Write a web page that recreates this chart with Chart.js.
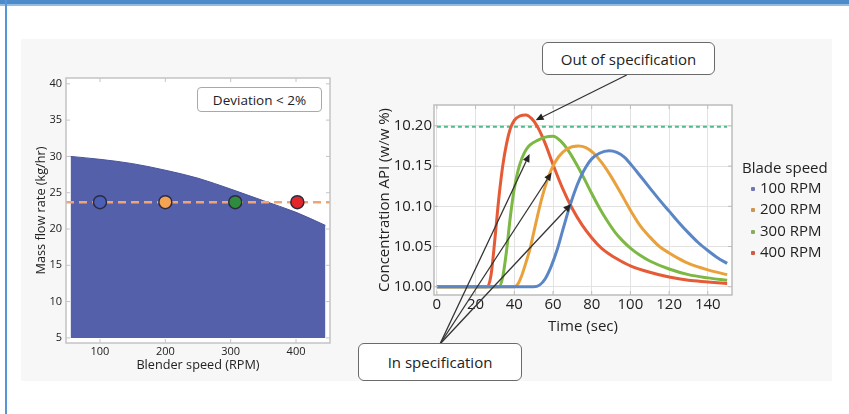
<!DOCTYPE html>
<html><head><meta charset="utf-8">
<script src="https://cdn.jsdelivr.net/npm/chart.js@4.4.1/dist/chart.umd.min.js"></script>
<style>
html,body{margin:0;padding:0;background:#fff;width:849px;height:414px;overflow:hidden;font-family:"Open Sans","Noto Sans",sans-serif;color:#222}
#topband{position:absolute;left:0;top:0;width:849px;height:4px;background:#4d8bcb}
#topline{position:absolute;left:0;top:4px;width:849px;height:2px;background:#93bce3}
#leftline{position:absolute;left:5px;top:0;width:2px;height:414px;background:#5596d6}
#panel{position:absolute;left:21px;top:39px;width:811px;height:342px;background:#f7f7f7}
#c1wrap{position:absolute;left:20px;top:60px;width:330px;height:320px}
#c2wrap{position:absolute;left:340px;top:40px;width:509px;height:345px}
.box{position:absolute;box-sizing:border-box;background:#fff;display:flex;align-items:center;justify-content:center;white-space:nowrap}
#dev{left:197px;top:87px;width:125px;height:25px;border:1.5px solid #a9a9a9;border-radius:4px;font-size:13.5px;color:#222}
#outspec{left:542px;top:42px;width:173px;height:33px;border:1.6px solid #6a6a6a;border-radius:6px;font-size:15px}
#inspec{left:358px;top:343px;width:164px;height:38px;border:1.6px solid #6a6a6a;border-radius:6px;font-size:15px}
#legend{position:absolute;left:742px;top:157px;font-size:15px;color:#222}
.lgtitle{position:absolute;left:0;top:0;line-height:20px;white-space:nowrap}
.lgitem{position:absolute;left:8px;white-space:nowrap;line-height:20px}
.lgmark{position:absolute;width:4px;height:4px;border-radius:1px}
</style></head>
<body>
<div id="topband"></div><div id="topline"></div><div id="leftline"></div>
<div id="panel"></div>
<div id="c1wrap"><canvas id="c1" width="330" height="320"></canvas></div>
<div id="c2wrap"><canvas id="c2" width="509" height="345"></canvas></div>
<div class="box" id="dev">Deviation &lt; 2%</div>
<div class="box" id="outspec">Out of specification</div>
<div class="box" id="inspec">In specification</div>
<div id="legend"></div>
<script>
// ---------- Left chart data ----------
const blenderSpeed = [55, 100, 150, 200, 250, 300, 350, 400, 445];
const maxFlowRate  = [30.0, 29.6, 29.0, 28.1, 27.0, 25.5, 23.9, 22.3, 20.5];
const designSpaceFloor = 5;
const setpointSpeed = [48, 452];
const setpointRate  = [23.7, 23.7];
const runSpeeds = [100, 200, 307, 402];
const runRates  = [23.7, 23.7, 23.7, 23.7];
const leftXTicks = [100, 200, 300, 400];
const leftYTicks = [5, 10, 15, 20, 25, 30, 35, 40];

// ---------- Right chart data ----------
const seriesLabels = ['100 RPM', '200 RPM', '300 RPM', '400 RPM'];
const time100 = [0, 50, 53, 56, 59, 62, 65, 68, 71, 74, 77, 80, 84, 89, 93, 97, 101, 105, 110, 115, 120, 125, 130, 135, 140, 145, 150];
const conc100 = [10.000, 10.000, 10.002, 10.010, 10.025, 10.045, 10.070, 10.095, 10.117, 10.135, 10.149, 10.159, 10.166, 10.169, 10.167, 10.161, 10.150, 10.138, 10.123, 10.108, 10.094, 10.080, 10.067, 10.055, 10.045, 10.036, 10.029];
const time200 = [0, 40, 42, 44, 46, 48, 50, 52, 54, 56, 58, 60, 63, 67, 73, 77, 81, 85, 89, 93, 97, 101, 105, 110, 115, 120, 125, 130, 140, 150];
const conc200 = [10.000, 10.000, 10.004, 10.015, 10.030, 10.046, 10.067, 10.088, 10.108, 10.125, 10.139, 10.150, 10.162, 10.171, 10.175, 10.173, 10.166, 10.155, 10.141, 10.125, 10.108, 10.091, 10.076, 10.062, 10.050, 10.042, 10.035, 10.029, 10.021, 10.015];
const time300 = [0, 32, 34, 36, 38, 40, 42, 44, 46, 48, 52, 56, 60, 64, 68, 72, 76, 80, 84, 88, 92, 96, 100, 105, 110, 120, 130, 140, 150];
const conc300 = [10.000, 10.000, 10.012, 10.045, 10.088, 10.122, 10.145, 10.160, 10.170, 10.176, 10.182, 10.186, 10.187, 10.181, 10.169, 10.153, 10.135, 10.116, 10.098, 10.082, 10.068, 10.057, 10.048, 10.039, 10.032, 10.022, 10.015, 10.011, 10.008];
const time400 = [0, 26, 28, 30, 32, 34, 36, 38, 40, 43, 46, 49, 52, 56, 60, 65, 70, 75, 80, 85, 90, 95, 100, 110, 120, 130, 140, 150];
const conc400 = [10.000, 10.000, 10.015, 10.060, 10.110, 10.150, 10.178, 10.197, 10.207, 10.2125, 10.2137, 10.209, 10.199, 10.178, 10.152, 10.122, 10.097, 10.077, 10.061, 10.048, 10.039, 10.032, 10.026, 10.018, 10.012, 10.008, 10.006, 10.004];
const specLimitTime = [0, 150];
const specLimitConc = [10.199, 10.199];
const rightXTicks = [0, 20, 40, 60, 80, 100, 120, 140];
const rightYTicks = [10.00, 10.05, 10.10, 10.15, 10.20];
// annotation arrow targets (data coordinates)
const outSpecTarget = {x: 51, y: 10.207};
const inSpecTargets = [{x: 47.9, y: 10.165}, {x: 59.3, y: 10.142}, {x: 69.4, y: 10.103}];

// ---------- styling ----------
const FONT = "'Open Sans','Noto Sans',sans-serif";
Chart.defaults.font.family = FONT;
Chart.defaults.color = '#222';
const seriesColors = ['#5b86c6', '#e9a23b', '#7cb844', '#e65a36'];
const legendColors = ['#6f78b3', '#cf9450', '#8cab62', '#cf5a45'];
const runColors = ['#4b5fb5', '#f4a254', '#2f8c3e', '#e3262a'];
const zip = (xs, ys) => xs.map((x, i) => ({x, y: ys[i]}));

const plotBg = {
  id: 'plotBg',
  beforeDraw(chart) {
    const {ctx, chartArea: a} = chart;
    ctx.save(); ctx.fillStyle = '#fff';
    ctx.fillRect(a.left, a.top, a.right - a.left, a.bottom - a.top);
    ctx.restore();
  }
};
const frame = {
  id: 'frame',
  afterDatasetsDraw(chart, args, opts) {
    const {ctx, chartArea: a, scales} = chart;
    ctx.save();
    ctx.strokeStyle = opts.color || '#c2c2c2'; ctx.lineWidth = 1.5;
    ctx.strokeRect(a.left, a.top, a.right - a.left, a.bottom - a.top);
    ctx.lineWidth = 1;
    ctx.beginPath();
    scales.x.ticks.forEach(t => {
      const px = scales.x.getPixelForValue(t.value);
      ctx.moveTo(px, a.bottom); ctx.lineTo(px, a.bottom - 4);
      ctx.moveTo(px, a.top); ctx.lineTo(px, a.top + 4);
    });
    scales.y.ticks.forEach(t => {
      const py = scales.y.getPixelForValue(t.value);
      ctx.moveTo(a.left, py); ctx.lineTo(a.left + 4, py);
      ctx.moveTo(a.right, py); ctx.lineTo(a.right - 4, py);
    });
    ctx.stroke();
    ctx.restore();
  }
};

// ---------- Left chart ----------
new Chart(document.getElementById('c1'), {
  type: 'line',
  data: {
    datasets: [
      {data: zip(runSpeeds, runRates), showLine: false, pointRadius: 6.5, pointHoverRadius: 6.5,
       pointBackgroundColor: runColors, pointBorderColor: '#2b2b40', pointBorderWidth: 1.5, order: 0},
      {data: zip(setpointSpeed, setpointRate), borderColor: '#f0a373', borderWidth: 2.5, borderDash: [8, 5],
       pointRadius: 0, fill: false, order: 1},
      {data: zip(blenderSpeed, maxFlowRate), borderColor: '#4b5499', borderWidth: 1, backgroundColor: '#5560aa',
       fill: {value: designSpaceFloor}, pointRadius: 0, cubicInterpolationMode: 'monotone', order: 2}
    ]
  },
  options: {
    responsive: false, animation: false,
    layout: {padding: {left: 0, top: 18, right: 20, bottom: 6}},
    plugins: {legend: {display: false}, tooltip: {enabled: false}, frame: {color: '#c4c4c4'}},
    scales: {
      x: {type: 'linear', min: 48, max: 452,
        afterBuildTicks: s => { s.ticks = leftXTicks.map(v => ({value: v})); },
        afterFit: s => { s.height = 31; },
        grid: {display: false, drawTicks: false}, border: {display: false},
        ticks: {font: {size: 11}, padding: 2, color: '#222'},
        title: {display: true, text: 'Blender speed (RPM)', font: {size: 12.7}, color: '#222', padding: {top: 0, bottom: 0.5}}},
      y: {type: 'linear', min: 4.3, max: 40.8,
        afterBuildTicks: s => { s.ticks = leftYTicks.map(v => ({value: v})); },
        afterFit: s => { s.width = 46; },
        grid: {display: false, drawTicks: false}, border: {display: false},
        ticks: {font: {size: 11}, padding: 4, color: '#222'},
        title: {display: true, text: 'Mass flow rate (kg/hr)', font: {size: 12.7}, color: '#222', padding: {top: 14, bottom: 0}}}
    }
  },
  plugins: [plotBg, frame]
});

// ---------- Right chart ----------
const arrows = {
  id: 'arrows',
  afterDraw(chart) {
    const {ctx, scales: {x, y}} = chart;
    const draw = (sx, sy, t) => {
      const tx = x.getPixelForValue(t.x), ty = y.getPixelForValue(t.y);
      const ang = Math.atan2(ty - sy, tx - sx), L = 8, W = 3.5;
      const bx = tx - L * Math.cos(ang), by = ty - L * Math.sin(ang);
      ctx.beginPath(); ctx.moveTo(sx, sy); ctx.lineTo(bx, by); ctx.stroke();
      ctx.beginPath(); ctx.moveTo(tx, ty);
      ctx.lineTo(bx + W * Math.sin(ang), by - W * Math.cos(ang));
      ctx.lineTo(bx - W * Math.sin(ang), by + W * Math.cos(ang));
      ctx.closePath(); ctx.fill();
    };
    ctx.save();
    ctx.strokeStyle = '#333'; ctx.fillStyle = '#222'; ctx.lineWidth = 1.3;
    draw(286.7, 35, outSpecTarget);
    inSpecTargets.forEach(t => draw(100, 304, t));
    ctx.restore();
  }
};
const curveTimes = [time100, time200, time300, time400];
const curveConcs = [conc100, conc200, conc300, conc400];
const curveSets = seriesLabels.map((lab, i) => ({
  label: lab, data: zip(curveTimes[i], curveConcs[i]), borderColor: seriesColors[i], borderWidth: 3,
  pointRadius: 0, fill: false, cubicInterpolationMode: 'monotone'
}));
curveSets.push({label: 'spec', data: zip(specLimitTime, specLimitConc), borderColor: '#52b98a', borderWidth: 2,
  borderDash: [4, 3], pointRadius: 0, fill: false});
new Chart(document.getElementById('c2'), {
  type: 'line',
  data: {datasets: curveSets},
  options: {
    responsive: false, animation: false,
    layout: {padding: {left: 30, top: 65, right: 117, bottom: 48}},
    plugins: {legend: {display: false}, tooltip: {enabled: false}, frame: {color: '#bdbdbd'}},
    scales: {
      x: {type: 'linear', min: -1.5, max: 152.5,
        afterBuildTicks: s => { s.ticks = rightXTicks.map(v => ({value: v})); },
        afterFit: s => { s.height = 42; },
        grid: {color: '#e2e2e2', drawTicks: false}, border: {display: false},
        ticks: {font: {size: 15}, padding: 1, color: '#222'},
        title: {display: true, text: 'Time (sec)', font: {size: 15}, color: '#222', padding: {top: 0, bottom: 1}}},
      y: {type: 'linear', min: 9.9897, max: 10.226,
        afterBuildTicks: s => { s.ticks = rightYTicks.map(v => ({value: v})); },
        afterFit: s => { s.width = 64; },
        grid: {color: '#e2e2e2', drawTicks: false}, border: {display: false},
        ticks: {font: {size: 15}, padding: 2, color: '#222', callback: v => Number(v).toFixed(2)},
        title: {display: true, text: 'Concentration API (w/w %)', font: {size: 15}, color: '#222', padding: {top: 6, bottom: 0}}}
    }
  },
  plugins: [plotBg, frame, arrows]
});

// ---------- HTML legend built from series ----------
const lg = document.getElementById('legend');
let html = '<div class="lgtitle">Blade speed</div>';
seriesLabels.forEach((lab, i) => {
  const top = 20 + i * 21.4;
  html += '<div class="lgmark" style="left:9px;top:' + (top + 10) + 'px;background:' + legendColors[i] + '"></div>';
  html += '<div class="lgitem" style="left:18px;top:' + top + 'px">' + lab + '</div>';
});
lg.innerHTML = html;
</script>
</body></html>
